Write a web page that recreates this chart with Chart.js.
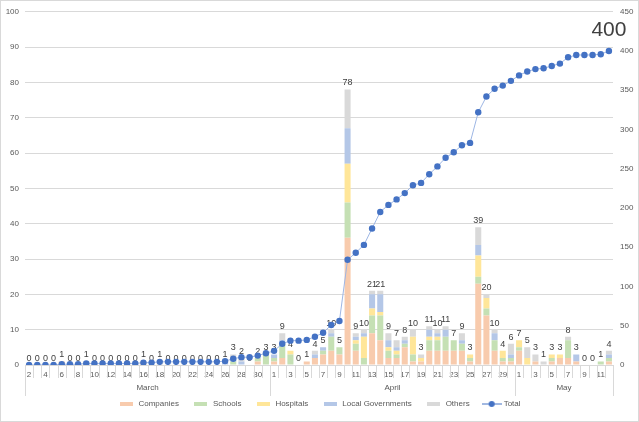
<!DOCTYPE html>
<html>
<head>
<meta charset="utf-8">
<script src="https://cdn.jsdelivr.net/npm/chart.js@4.4.1/dist/chart.umd.min.js"></script>
<style>
    html, body { margin: 0; padding: 0; background: #fff; }
    #box { width: 639px; height: 422px; }
</style>
</head>
<body>
<div id="box"><canvas id="cases" width="639" height="422"></canvas></div>
<script>
// Tage (Kategorien), Monate
const marchDays = [2,3,4,5,6,7,8,9,10,11,12,13,14,15,16,17,18,19,20,21,22,23,24,25,26,27,28,29,30,31];
const aprilDays = [1,2,3,4,5,6,7,8,9,10,11,12,13,14,15,16,17,18,19,20,21,22,23,24,25,26,27,28,29,30];
const mayDays = [1,2,3,4,5,6,7,8,9,10,11,12];
const monthNames = ['March', 'April', 'May'];

// Werte pro Tag und Kategorie (März | April | Mai)
const companies = [
    0,0,0,0,1,0,0,0,0,0, 0,0,0,0,1,0,0,0,0,0, 0,0,0,0,0,0,0,0,1,0,
    1,2,0,0,1,2,3,4,3,36, 4,0,9,7,2,2,5,1,1,4, 4,4,4,4,1,23,14,4,1,1,
    4,0,1,0,1,2,2,1,0,0,0,1
];
const schools = [
    0,0,0,0,0,0,0,0,0,0, 0,0,0,0,0,0,0,0,0,0, 0,0,0,0,0,1,0,0,1,3,
    1,4,3,0,0,0,1,4,2,10, 2,2,5,7,2,1,1,2,0,3, 3,4,3,2,1,2,2,3,1,1,
    1,0,0,0,1,0,5,0,0,0,1,1
];
const hospitals = [
    0,0,0,0,0,0,0,0,0,0, 0,0,0,0,0,0,0,0,0,0, 0,0,0,0,0,0,0,0,0,0,
    0,0,1,0,0,0,0,0,0,11, 1,6,2,1,1,1,0,5,1,1, 1,0,0,0,1,6,3,0,2,0,
    2,2,0,0,1,1,0,0,0,0,0,0
];
const localGovs = [
    0,0,0,0,0,0,0,1,0,0, 0,0,0,0,0,0,0,0,0,0, 0,0,0,0,1,1,1,0,0,0,
    1,1,0,0,0,1,1,1,0,10, 1,1,4,5,2,1,1,0,0,2, 1,2,0,1,0,3,0,2,0,1,
    0,0,0,0,0,0,0,2,0,0,0,1
];
const others = [
    0,0,0,0,0,0,0,0,0,0, 0,0,0,0,0,0,1,0,0,0, 0,0,0,0,0,1,1,0,0,0,
    0,2,0,0,0,1,0,1,0,11, 1,1,1,1,2,2,1,2,1,1, 1,1,0,2,0,5,1,1,0,3,
    0,3,2,1,0,0,1,0,0,0,0,1
];
// kumulierte Summe (rechte Achse)
const totalCum = [
    0,0,0,0,1,1,1,2,2,2, 2,2,2,2,3,3,4,4,4,4, 4,4,4,4,5,8,10,10,12,15,
    18,27,31,31,32,36,41,51,56,134, 143,153,174,195,204,211,219,229,232,243, 253,264,271,280,283,322,342,352,356,362,
    369,374,377,378,381,384,392,395,395,395,396,400
];

const labels = [...marchDays, ...aprilDays, ...mayDays].map(String);
const monthLengths = [marchDays.length, aprilDays.length, mayDays.length];

const FONT = "'Liberation Sans', Arial, sans-serif";
const GRID = '#d9d9d9';
const TEXT = '#595959';

// kleine Legenden-Symbole
function swatch(color) {
    const c = document.createElement('canvas');
    c.width = 13; c.height = 4;
    const g = c.getContext('2d');
    g.fillStyle = color;
    g.fillRect(0, 0, 13, 4);
    return c;
}
function lineMarker() {
    const c = document.createElement('canvas');
    c.width = 20; c.height = 8;
    const g = c.getContext('2d');
    g.strokeStyle = '#4472C4';
    g.lineWidth = 1;
    g.beginPath(); g.moveTo(0, 4); g.lineTo(20, 4); g.stroke();
    g.fillStyle = '#4472C4';
    g.beginPath(); g.arc(10, 4, 3, 0, Math.PI * 2); g.fill();
    return c;
}

const barColors = ['#F8CBAD', '#C5E0B4', '#FFE699', '#B4C7E7', '#D9D9D9'];
const markers = [...barColors.map(swatch), lineMarker()];

// Beschriftungen, Monatsachse, Rahmen
const extras = {
    id: 'extras',
    beforeDraw(chart) {
        const ctx = chart.ctx;
        ctx.save();
        ctx.strokeStyle = GRID;
        ctx.lineWidth = 1;
        ctx.strokeRect(0.5, 0.5, chart.width - 1, chart.height - 1);
        ctx.restore();
    },
    beforeDatasetsDraw(chart) {
        const ctx = chart.ctx;
        const x = chart.scales.x;
        const y = chart.scales.y;
        const bottom = chart.chartArea.bottom;
        const half = (x.getPixelForValue(1) - x.getPixelForValue(0)) / 2;

        ctx.save();
        // Trennstriche zwischen den Tagen
        ctx.strokeStyle = GRID;
        ctx.lineWidth = 1;
        const bounds = [0, monthLengths[0], monthLengths[0] + monthLengths[1], labels.length];
        for (let i = 0; i <= labels.length; i++) {
            const px = Math.round(x.getPixelForValue(i) - half) + 0.5;
            const len = bounds.includes(i) ? 31 : 13;
            ctx.beginPath();
            ctx.moveTo(px, bottom);
            ctx.lineTo(px, bottom + len);
            ctx.stroke();
        }
        // Monatsnamen
        ctx.fillStyle = TEXT;
        ctx.font = '8px ' + FONT;
        ctx.textAlign = 'center';
        ctx.textBaseline = 'middle';
        for (let m = 0; m < monthNames.length; m++) {
            const a = x.getPixelForValue(bounds[m]) - half;
            const b = x.getPixelForValue(bounds[m + 1]) - half;
            ctx.fillText(monthNames[m], (a + b) / 2, bottom + 23);
        }
        // Tagessummen über den Balken
        ctx.fillStyle = '#404040';
        ctx.font = '9px ' + FONT;
        ctx.textBaseline = 'bottom';
        for (let i = 0; i < labels.length; i++) {
            const sum = companies[i] + schools[i] + hospitals[i] + localGovs[i] + others[i];
            ctx.fillText(String(sum), x.getPixelForValue(i), y.getPixelForValue(sum) - 2);
        }
        ctx.restore();
    },
    afterDatasetsDraw(chart) {
        const ctx = chart.ctx;
        const meta = chart.getDatasetMeta(5);
        const last = meta.data[meta.data.length - 1];
        ctx.save();
        ctx.fillStyle = '#404040';
        ctx.font = '21px ' + FONT;
        ctx.textAlign = 'center';
        ctx.textBaseline = 'bottom';
        ctx.fillText(String(totalCum[totalCum.length - 1]), last.x, last.y - 10);
        ctx.restore();
    }
};

function barSet(label, data, color) {
    return {
        type: 'bar', label: label, data: data, backgroundColor: color,
        stack: 'daily', yAxisID: 'y', order: 1,
        categoryPercentage: 1, barPercentage: 0.74
    };
}

new Chart(document.getElementById('cases'), {
    data: {
        labels: labels,
        datasets: [
            barSet('Companies', companies, barColors[0]),
            barSet('Schools', schools, barColors[1]),
            barSet('Hospitals', hospitals, barColors[2]),
            barSet('Local Governments', localGovs, barColors[3]),
            barSet('Others', others, barColors[4]),
            {
                type: 'line', label: 'Total', data: totalCum, yAxisID: 'y1', order: 0,
                borderColor: '#9DB6E4', borderWidth: 1, tension: 0,
                pointRadius: 3.2, pointBackgroundColor: '#4472C4', pointBorderColor: '#4472C4', pointBorderWidth: 0
            }
        ]
    },
    options: {
        responsive: false,
        animation: false,
        layout: { padding: { top: 8, bottom: 4, left: 0, right: 0 } },
        scales: {
            x: {
                stacked: true,
                offset: true,
                grid: { display: false, drawTicks: false },
                border: { color: GRID },
                ticks: {
                    autoSkip: false, maxRotation: 0, padding: 5,
                    color: TEXT, font: { family: FONT, size: 8 },
                    callback: (v, i) => i % 2 === 0 ? labels[i] : ''
                },
                afterFit: (s) => { s.height = 21; }
            },
            y: {
                stacked: true,
                min: 0, max: 100,
                ticks: { stepSize: 10, padding: 6, color: TEXT, font: { family: FONT, size: 8 } },
                grid: { color: GRID, drawTicks: false },
                border: { display: false },
                afterFit: (s) => { s.width = 25; }
            },
            y1: {
                position: 'right',
                min: 0, max: 450,
                ticks: { stepSize: 50, padding: 7, color: TEXT, font: { family: FONT, size: 8 } },
                grid: { display: false, drawTicks: false },
                border: { display: false },
                afterFit: (s) => { s.width = 26; }
            }
        },
        plugins: {
            tooltip: { enabled: false },
            legend: {
                position: 'bottom',
                labels: {
                    usePointStyle: true,
                    pointStyleWidth: 16,
                    padding: 14,
                    color: TEXT,
                    font: { family: FONT, size: 8 },
                    sort: (a, b) => a.datasetIndex - b.datasetIndex,
                    generateLabels(chart) {
                        const items = Chart.defaults.plugins.legend.labels.generateLabels(chart);
                        items.forEach((it) => { it.pointStyle = markers[it.datasetIndex]; });
                        return items;
                    }
                }
            }
        }
    },
    plugins: [extras]
});
</script>
</body>
</html>
